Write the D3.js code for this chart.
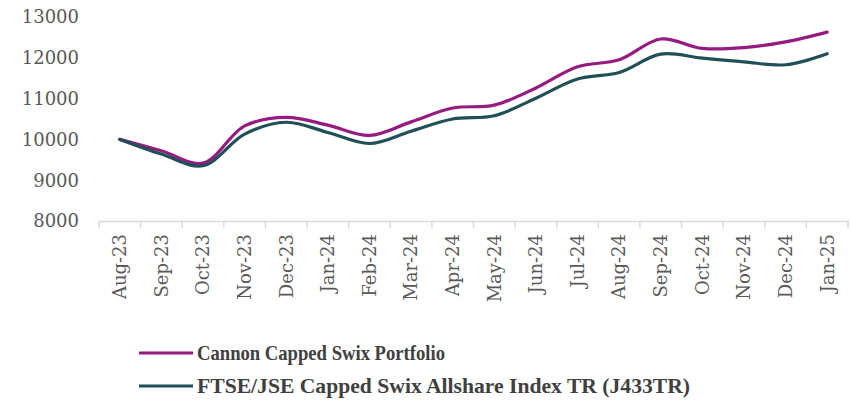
<!DOCTYPE html>
<html>
<head>
<meta charset="utf-8">
<script src="https://cdn.jsdelivr.net/npm/d3@7"></script>
<style>
  body { margin: 0; background: #fff; }
  svg { display: block; }
</style>
</head>
<body>
<svg id="chart" width="850" height="400"></svg>
<script>
const months = ["Aug-23", "Sep-23", "Oct-23", "Nov-23", "Dec-23", "Jan-24", "Feb-24", "Mar-24", "Apr-24",
  "May-24", "Jun-24", "Jul-24", "Aug-24", "Sep-24", "Oct-24", "Nov-24", "Dec-24", "Jan-25"];
const portfolio = [10000, 9720, 9420, 10330, 10540, 10350, 10100, 10430, 10770,
  10840, 11260, 11780, 11950, 12460, 12230, 12250, 12390, 12630];
const index_tr = [10000, 9640, 9355, 10130, 10420, 10170, 9900, 10200, 10500,
  10580, 11010, 11480, 11640, 12090, 11990, 11900, 11830, 12100];
const y_ticks = [8000, 9000, 10000, 11000, 12000, 13000];
const series = [
  {name: "Cannon Capped Swix Portfolio", values: portfolio, color: "#951b81", len: 248},
  {name: "FTSE/JSE Capped Swix Allshare Index TR (J433TR)", values: index_tr, color: "#1f4f57", len: 493}
];

const SVG = d3.select("#chart");
const AXIS_COR = "#d9d9d9";
const TEXT_COR = "#595959";
const FONT = "'DejaVu Serif', serif";

const X_SCALE = d3.scaleBand().domain(months).range([99, 848]);
const Y_SCALE = d3.scaleLinear().domain([8000, 13000]).range([221, 17]);

// y 轴文字（无网格线）
SVG.append("g")
  .selectAll("text")
  .data(y_ticks)
  .join("text")
  .attr("x", 79)
  .attr("y", d => Y_SCALE(d))
  .attr("dy", "0.35em")
  .attr("text-anchor", "end")
  .attr("font-family", FONT)
  .attr("font-size", 18)
  .attr("fill", TEXT_COR)
  .text(d => d);

// x 轴
const x_axis = d3.axisBottom(X_SCALE).tickSize(0).tickFormat("");
const gx = SVG.append("g").attr("transform", "translate(0,221)").call(x_axis);
gx.select(".domain").attr("stroke", AXIS_COR).attr("stroke-width", 1.5);
// 分隔刻度线在类别边界
const bounds = months.map(m => X_SCALE(m)).concat([X_SCALE.range()[1]]);
gx.selectAll(".sep")
  .data(bounds)
  .join("line")
  .attr("class", "sep")
  .attr("x1", d => d).attr("x2", d => d)
  .attr("y1", 0).attr("y2", 7)
  .attr("stroke", AXIS_COR)
  .attr("stroke-width", 1.5);

SVG.append("g")
  .selectAll("text")
  .data(months)
  .join("text")
  .attr("transform", d => `translate(${X_SCALE(d) + X_SCALE.bandwidth() / 2},234) rotate(-90)`)
  .attr("dy", "0.35em")
  .attr("text-anchor", "end")
  .attr("font-family", FONT)
  .attr("font-size", 18)
  .attr("fill", TEXT_COR)
  .text(d => d);

// 平滑折线
const line = d3.line()
  .x((d, i) => X_SCALE(months[i]) + X_SCALE.bandwidth() / 2)
  .y(d => Y_SCALE(d))
  .curve(d3.curveCatmullRom.alpha(0.5));

for (let s of series) {
  SVG.append("path")
    .attr("d", line(s.values))
    .attr("fill", "none")
    .attr("stroke", s.color)
    .attr("stroke-width", 3.2)
    .attr("stroke-linecap", "round");
}

// 图例
const legend = SVG.append("g");
series.forEach((s, i) => {
  let y = 353 + i * 33;
  legend.append("line")
    .attr("x1", 139).attr("x2", 193)
    .attr("y1", y).attr("y2", y)
    .attr("stroke", s.color)
    .attr("stroke-width", 3.2);
  legend.append("text")
    .attr("x", 197)
    .attr("y", y)
    .attr("dy", "0.35em")
    .attr("font-family", "'Liberation Serif', serif")
    .attr("font-weight", "bold")
    .attr("font-size", 21)
    .attr("textLength", s.len)
    .attr("lengthAdjust", "spacingAndGlyphs")
    .attr("fill", "#404040")
    .text(s.name);
});
</script>
</body>
</html>
